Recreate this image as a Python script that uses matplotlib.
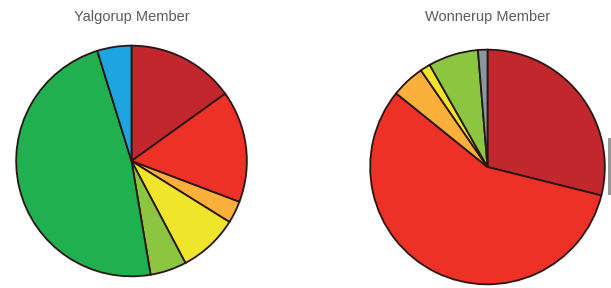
import matplotlib
matplotlib.use("Agg")
import matplotlib.pyplot as plt
from matplotlib.patches import Rectangle

titles = ["Yalgorup Member", "Wonnerup Member"]

yal_labels = ["Dark red", "Red", "Orange", "Yellow", "Light green", "Green", "Blue"]
yal_values = [15.1, 15.7, 3.1, 8.4, 5.1, 47.9, 4.8]
yal_colors = ["#c1272d", "#ed3127", "#fbb03b", "#efe62c", "#8cc641", "#20b04f", "#1ea5df"]

won_labels = ["Dark red", "Red", "Orange", "Yellow", "Light green", "Gray"]
won_values = [28.9, 56.9, 4.6, 1.4, 6.9, 1.3]
won_colors = ["#c1272d", "#ed3127", "#fbb03b", "#efe62c", "#8cc641", "#8a96a0"]

W, H = 611, 288
fig = plt.figure(figsize=(W / 100, H / 100), dpi=100)
fig.patch.set_facecolor("white")

def make_ax(cx, cy, r):
    return fig.add_axes([(cx - r) / W, (H - cy - r) / H, 2 * r / W, 2 * r / H])

pies = [
    (131.5, 161, 116.5, yal_values, yal_colors, titles[0]),
    (487.5, 167, 118.5, won_values, won_colors, titles[1]),
]

for cx, cy, r, vals, cols, title in pies:
    ax = make_ax(cx, cy, r)
    ax.pie(vals, colors=cols, startangle=90, counterclock=False, radius=1,
           wedgeprops=dict(edgecolor="#2a1515", linewidth=1.3))
    ax.set_xlim(-1.01, 1.01)
    ax.set_ylim(-1.01, 1.01)
    ax.set_aspect("equal")
    ax.set_axis_off()
    fig.text(cx / W, 1 - 17 / H, title, ha="center", va="center",
             fontsize=10.5, color="#5a5a5a", family="Liberation Sans")

# partial dark element at right edge
fig.patches.append(Rectangle((607.5 / W, 1 - 195 / H), 3.5 / W, 57 / H,
                             transform=fig.transFigure, facecolor="#444444",
                             edgecolor="none", alpha=0.55))

fig.savefig("out.png", dpi=100)
